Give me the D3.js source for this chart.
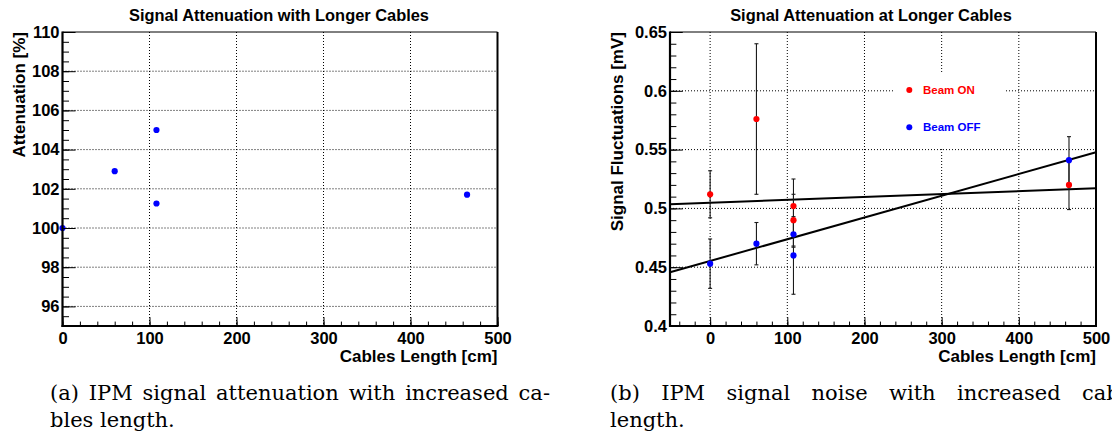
<!DOCTYPE html>
<html>
<head>
<meta charset="utf-8">
<script src="https://cdn.jsdelivr.net/npm/d3@7"></script>
<style>
  html, body { margin: 0; padding: 0; background: #fff; }
  svg { display: block; }
</style>
</head>
<body>
<svg id="chart" width="1112" height="444"></svg>
<script>
// ---------------- DATA ----------------
// Panel (a): Signal attenuation vs cable length
const attenLength = [0, 60, 108, 108, 465];
const attenValue  = [100.0, 102.9, 105.0, 101.25, 101.7];

// Panel (b): Signal fluctuations vs cable length
const beamOnLength  = [0, 60, 108, 108, 465];
const beamOnValue   = [0.512, 0.576, 0.502, 0.490, 0.520];
const beamOnError   = [0.020, 0.064, 0.023, 0.022, 0.021];
const beamOffLength = [0, 60, 108, 108, 465];
const beamOffValue  = [0.453, 0.470, 0.478, 0.460, 0.541];
const beamOffError  = [0.021, 0.018, 0.011, 0.033, 0.020];

// straight-line fits (values at the two ends of the x range)
const fitX      = [-52, 500];
const fitOnY    = [0.5035, 0.5171];
const fitOffY   = [0.4457, 0.5477];

// axis ranges and ticks
const xDomainA = [0, 500];
const yDomainA = [95, 110];
const xTicksA  = [0, 100, 200, 300, 400, 500];
const xTickLabelsA = ["0", "100", "200", "300", "400", "500"];
const yTicksA  = [96, 98, 100, 102, 104, 106, 108, 110];
const yTickLabelsA = ["96", "98", "100", "102", "104", "106", "108", "110"];

const xDomainB = [-52, 500];
const yDomainB = [0.4, 0.65];
const xTicksB  = [0, 100, 200, 300, 400, 500];
const xTickLabelsB = ["0", "100", "200", "300", "400", "500"];
const yTicksB  = [0.4, 0.45, 0.5, 0.55, 0.6, 0.65];
const yTickLabelsB = ["0.4", "0.45", "0.5", "0.55", "0.6", "0.65"];

const titleA = "Signal Attenuation with Longer Cables";
const titleB = "Signal Attenuation at Longer Cables";
const xTitle = "Cables Length [cm]";
const yTitleA = "Attenuation [%]";
const yTitleB = "Signal Fluctuations [mV]";
const legendLabels = ["Beam ON", "Beam OFF"];
const captionA = ["(a) IPM signal attenuation with increased ca-", "bles length."];
const captionB = ["(b) IPM signal noise with increased cables", "length."];

// ---------------- DRAWING ----------------
const svg = d3.select("#chart");
const SANS = "'Liberation Sans', Arial, Helvetica, sans-serif";
const SERIF = "'DejaVu Serif', 'Liberation Serif', serif";
const RED = "#ff0000", BLUE = "#0000ff";

function range(a, b, step) {
  const out = [];
  const n = Math.round((b - a) / step);
  for (let i = 0; i <= n; i++) out.push(+(a + i * step).toFixed(6));
  return out;
}

function makePanel(cfg) {
  const { L, R, T, B } = cfg;
  const x = d3.scaleLinear().domain(cfg.xDomain).range([L, R]);
  const y = d3.scaleLinear().domain(cfg.yDomain).range([B, T]);
  const g = svg.append("g");

  // grid (dotted)
  const grid = g.append("g").attr("stroke", "#000").attr("stroke-width", 1)
    .attr("stroke-dasharray", "1,2");
  grid.selectAll(".gx").data(cfg.xTicks.filter(v => x(v) > L + 2 && x(v) < R - 2))
    .join("line").attr("x1", d => x(d)).attr("x2", d => x(d))
    .attr("y1", T).attr("y2", B);
  grid.selectAll(".gy").data(cfg.yTicks.filter(v => y(v) > T + 2 && y(v) < B - 2))
    .join("line").attr("x1", L).attr("x2", R)
    .attr("y1", d => y(d)).attr("y2", d => y(d));

  return { g, x, y };
}

function finishAxes(p, cfg) {
  const { g, x, y } = p;
  const { L, R, T, B } = cfg;
  const hx = B - T, wy = R - L;
  const majX = 0.03 * hx, majY = 0.03 * wy;

  // minor ticks
  const xMinorVals = cfg.xMinor.filter(v => v >= cfg.xDomain[0] && v <= cfg.xDomain[1]);
  g.append("g").attr("transform", `translate(0,${B})`)
    .call(d3.axisBottom(x).tickValues(xMinorVals).tickSize(-majX / 2).tickFormat(""))
    .call(a => a.select(".domain").remove());
  g.append("g").attr("transform", `translate(${L},0)`)
    .call(d3.axisLeft(y).tickValues(cfg.yMinor).tickSize(-majY / 2).tickFormat(""))
    .call(a => a.select(".domain").remove());

  // major ticks + labels
  const ax = g.append("g").attr("transform", `translate(0,${B})`)
    .call(d3.axisBottom(x).tickValues(cfg.xTicks).tickSize(-majX).tickPadding(6)
      .tickFormat((d, i) => cfg.xTickLabels[i]));
  ax.select(".domain").remove();
  const ay = g.append("g").attr("transform", `translate(${L},0)`)
    .call(d3.axisLeft(y).tickValues(cfg.yTicks).tickSize(-majY).tickPadding(3)
      .tickFormat((d, i) => cfg.yTickLabels[i]));
  ay.select(".domain").remove();
  [ax, ay].forEach(a => {
    a.selectAll("text").attr("font-family", SANS).attr("font-weight", "bold")
      .attr("font-size", "16.5px").attr("fill", "#000");
    a.selectAll("line").attr("stroke", "#000");
  });
  g.selectAll(".tick line").attr("stroke", "#000").attr("stroke-width", 1);

  // frame
  const fr = g.append("g").attr("stroke", "#000").attr("fill", "none");
  fr.append("line").attr("x1", L).attr("x2", R).attr("y1", T).attr("y2", T).attr("stroke-width", 1);
  fr.append("line").attr("x1", R).attr("x2", R).attr("y1", T).attr("y2", B).attr("stroke-width", 2);
  fr.append("line").attr("x1", L).attr("x2", L).attr("y1", T - 0.5).attr("y2", B + 1).attr("stroke-width", 2.2);
  fr.append("line").attr("x1", L - 1).attr("x2", R + 1).attr("y1", B).attr("y2", B).attr("stroke-width", 2.2);

  // titles
  g.append("text").attr("x", cfg.titleX).attr("y", 21).attr("text-anchor", "middle")
    .attr("font-family", SANS).attr("font-weight", "bold").attr("font-size", "16.4px")
    .text(cfg.title);
  g.append("text").attr("x", R).attr("y", 362).attr("text-anchor", "end")
    .attr("font-family", SANS).attr("font-weight", "bold").attr("font-size", "17px")
    .text(cfg.xTitle);
  g.append("text").attr("transform", `translate(${cfg.yTitleX},${T}) rotate(-90)`)
    .attr("text-anchor", "end")
    .attr("font-family", SANS).attr("font-weight", "bold").attr("font-size", "17px")
    .text(cfg.yTitle);
}

// ---------- Panel (a) ----------
const cfgA = {
  L: 62.5, R: 497.5, T: 32, B: 326,
  xDomain: xDomainA, yDomain: yDomainA,
  xTicks: xTicksA, xTickLabels: xTickLabelsA,
  yTicks: yTicksA, yTickLabels: yTickLabelsA,
  xMinor: range(0, 500, 20), yMinor: range(95, 110, 0.5),
  title: titleA, titleX: 279, xTitle: xTitle, yTitle: yTitleA, yTitleX: 25
};
const pA = makePanel(cfgA);
pA.g.append("g").selectAll("circle")
  .data(attenLength.map((d, i) => ({ x: d, v: attenValue[i] })))
  .join("circle").attr("cx", d => pA.x(d.x)).attr("cy", d => pA.y(d.v))
  .attr("r", 3.1).attr("fill", BLUE);
finishAxes(pA, cfgA);

// ---------- Panel (b) ----------
const cfgB = {
  L: 670, R: 1096, T: 32, B: 326,
  xDomain: xDomainB, yDomain: yDomainB,
  xTicks: xTicksB, xTickLabels: xTickLabelsB,
  yTicks: yTicksB, yTickLabels: yTickLabelsB,
  xMinor: range(-40, 500, 20), yMinor: range(0.4, 0.65, 0.01),
  title: titleB, titleX: 871, xTitle: xTitle, yTitle: yTitleB, yTitleX: 623
};
const pB = makePanel(cfgB);

// legend background (white box hides grid)
pB.g.append("rect").attr("x", 895).attr("y", 72).attr("width", 111).attr("height", 75)
  .attr("fill", "#fff");

// fit lines
const line = d3.line().x(d => pB.x(d[0])).y(d => pB.y(d[1]));
pB.g.append("path").attr("d", line(fitX.map((d, i) => [d, fitOnY[i]])))
  .attr("stroke", "#000").attr("stroke-width", 2).attr("fill", "none");
pB.g.append("path").attr("d", line(fitX.map((d, i) => [d, fitOffY[i]])))
  .attr("stroke", "#000").attr("stroke-width", 2).attr("fill", "none");

function series(xs, vs, es, color) {
  const data = xs.map((d, i) => ({ x: d, v: vs[i], e: es[i] }));
  const eb = pB.g.append("g").attr("stroke", "#1a1a1a").attr("stroke-width", 1.1);
  data.forEach(d => {
    const cx = pB.x(d.x);
    eb.append("line").attr("x1", cx).attr("x2", cx)
      .attr("y1", pB.y(d.v - d.e)).attr("y2", pB.y(d.v + d.e));
    [d.v - d.e, d.v + d.e].forEach(v => {
      eb.append("line").attr("x1", cx - 2).attr("x2", cx + 2)
        .attr("y1", pB.y(v)).attr("y2", pB.y(v));
    });
  });
  return data;
}
const onData = series(beamOnLength, beamOnValue, beamOnError, RED);
const offData = series(beamOffLength, beamOffValue, beamOffError, BLUE);
pB.g.append("g").selectAll("circle").data(onData).join("circle")
  .attr("cx", d => pB.x(d.x)).attr("cy", d => pB.y(d.v)).attr("r", 3.1).attr("fill", RED);
pB.g.append("g").selectAll("circle").data(offData).join("circle")
  .attr("cx", d => pB.x(d.x)).attr("cy", d => pB.y(d.v)).attr("r", 3.1).attr("fill", BLUE);

finishAxes(pB, cfgB);

// legend
const leg = pB.g.append("g");
[[RED, 90], [BLUE, 127.3]].forEach(([c, yy], i) => {
  leg.append("circle").attr("cx", 909.3).attr("cy", yy).attr("r", 3).attr("fill", c);
  leg.append("text").attr("x", 923).attr("y", yy).attr("dy", "0.36em")
    .attr("font-family", SANS).attr("font-weight", "bold").attr("font-size", "11.5px")
    .attr("fill", c).text(legendLabels[i]);
});

// ---------- Captions ----------
function caption(lines, x0, justifyTo, base1, lineGap, lastWordTarget) {
  const t1 = svg.append("text").attr("x", x0).attr("y", base1)
    .attr("font-family", SERIF).attr("font-size", "21px").attr("fill", "#000")
    .text(lines[0]);
  const words = lines[0].split(" ");
  const gaps = words.length - 1;
  let ws;
  if (lastWordTarget != null) {
    const tmp = svg.append("text").attr("font-family", SERIF).attr("font-size", "21px")
      .attr("xml:space", "preserve").style("white-space", "pre")
      .text(words.slice(0, -1).join(" ") + " ");
    const w = tmp.node().getComputedTextLength();
    tmp.remove();
    ws = (lastWordTarget - x0 - w) / gaps;
  } else {
    const w = t1.node().getComputedTextLength();
    ws = (justifyTo - w) / gaps;
  }
  t1.attr("word-spacing", ws);
  svg.append("text").attr("x", x0).attr("y", base1 + lineGap)
    .attr("font-family", SERIF).attr("font-size", "21px").attr("fill", "#000")
    .text(lines[1]);
}
caption(captionA, 50, 500, 400, 27, null);
caption(captionB, 610, null, 400, 27, 1082);
</script>
</body>
</html>
